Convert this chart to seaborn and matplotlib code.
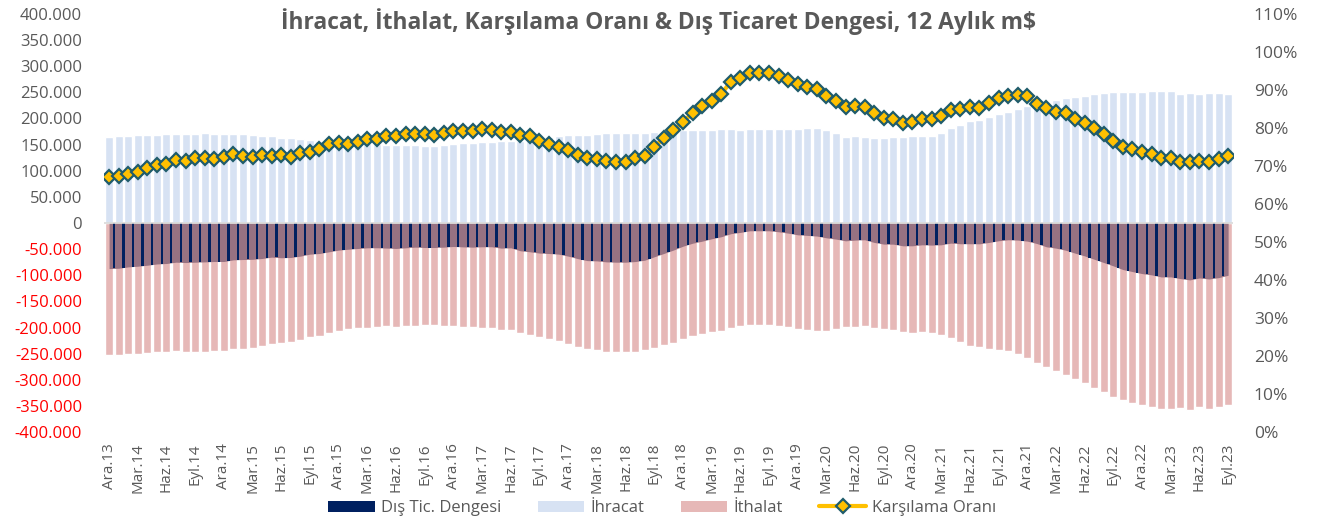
import numpy as np
import pandas as pd
import matplotlib
matplotlib.use("Agg")
import matplotlib.pyplot as plt
from matplotlib import font_manager as fm
from matplotlib.patches import Patch
from matplotlib.lines import Line2D
import seaborn as sns

# ---------------- data (values in thousand m$, i.e. 165.4 -> 165.400) ----------------
MONTHS = ["Oca", "Şub", "Mar", "Nis", "May", "Haz", "Tem", "Ağu", "Eyl", "Eki", "Kas", "Ara"]
periods = [f"{MONTHS[(11 + i) % 12]}.{13 + (11 + i) // 12}" for i in range(118)]  # Ara.13 ... Eyl.23

exports = [
    165.4, 166.0, 167.3, 168.6, 168.6, 169.0, 169.9, 169.9, 170.5, 171.2,
    171.8, 171.2, 171.2, 171.2, 170.5, 169.0, 166.7, 166.7, 163.5, 162.2,
    160.3, 159.0, 157.0, 155.8, 154.5, 153.0, 152.5, 152.5, 151.3, 150.0,
    150.0, 148.7, 150.0, 148.0, 148.0, 150.0, 151.3, 153.0, 152.5, 154.5,
    155.8, 156.4, 157.0, 157.7, 159.0, 161.0, 164.0, 166.0, 168.0, 169.0,
    169.0, 170.5, 171.8, 172.4, 172.4, 172.4, 171.8, 174.4, 175.7, 177.0,
    178.0, 178.0, 178.0, 178.8, 179.5, 180.8, 178.8, 180.0, 180.0, 180.0,
    180.0, 180.0, 180.0, 181.4, 181.4, 178.0, 171.8, 164.0, 166.0, 164.7,
    162.8, 162.8, 164.0, 164.0, 166.0, 166.0, 167.3, 172.4, 182.0, 188.5,
    194.9, 197.4, 203.8, 209.0, 212.8, 218.6, 223.0, 228.0, 229.4, 234.6,
    239.0, 241.0, 244.0, 246.0, 248.7, 250.6, 250.6, 250.6, 250.6, 252.6,
    251.9, 251.9, 247.4, 249.4, 247.4, 248.0, 248.0, 247.4,
]

imports = [
    -252.6, -252.6, -251.3, -251.3, -249.4, -247.4, -247.4, -244.9, -246.2, -246.2,
    -246.2, -244.9, -244.9, -241.7, -240.4, -238.5, -234.6, -232.0, -230.0, -228.2,
    -223.7, -218.6, -215.4, -210.9, -206.4, -203.2, -201.3, -200.0, -198.7, -198.0,
    -198.7, -196.2, -196.2, -194.9, -194.9, -196.2, -196.2, -198.7, -198.7, -200.0,
    -201.3, -204.5, -204.5, -210.9, -214.1, -218.6, -222.4, -225.6, -231.4, -237.2,
    -241.0, -243.0, -246.2, -247.4, -247.4, -246.2, -243.0, -239.1, -234.0, -228.8,
    -222.4, -216.7, -212.8, -209.0, -205.8, -201.3, -196.8, -194.9, -194.9, -194.9,
    -196.8, -199.4, -202.6, -205.1, -206.4, -206.4, -202.6, -198.1, -198.7, -196.8,
    -200.0, -203.2, -204.5, -207.7, -209.6, -207.7, -209.6, -214.1, -220.5, -228.2,
    -234.6, -237.2, -241.0, -243.0, -244.9, -251.3, -257.7, -267.3, -275.0, -282.7,
    -291.0, -298.7, -307.0, -315.4, -324.4, -332.7, -339.7, -343.6, -347.4, -351.9,
    -355.1, -355.1, -353.8, -358.3, -352.6, -355.1, -352.6, -347.4,
]

coverage = [  # Karşılama Oranı, %
    67.2, 67.4, 68.0, 68.5, 69.4, 70.2, 70.4, 71.6, 71.4, 72.2,
    72.2, 71.8, 72.5, 73.1, 72.6, 72.4, 72.9, 72.6, 72.9, 72.5,
    73.3, 73.8, 74.6, 75.7, 76.0, 75.8, 76.4, 77.0, 77.2, 77.9,
    77.9, 78.4, 78.3, 78.3, 78.2, 78.6, 79.3, 79.3, 79.3, 79.8,
    79.6, 78.9, 79.0, 78.2, 77.9, 76.6, 75.7, 75.1, 74.2, 72.9,
    72.2, 71.8, 71.3, 71.1, 71.1, 72.0, 72.7, 75.0, 77.3, 79.5,
    81.5, 84.0, 85.8, 87.2, 88.9, 92.2, 93.1, 94.4, 94.6, 94.6,
    93.7, 92.6, 91.6, 90.7, 90.2, 88.4, 87.2, 85.6, 85.8, 85.6,
    83.9, 82.7, 82.5, 81.2, 81.7, 82.3, 82.3, 83.2, 84.7, 85.0,
    85.6, 85.2, 86.5, 87.8, 88.4, 88.8, 88.4, 86.2, 85.2, 84.3,
    83.9, 82.4, 81.2, 79.9, 78.3, 76.6, 75.1, 74.4, 73.8, 73.1,
    72.0, 72.2, 71.1, 71.0, 71.4, 71.1, 71.8, 72.6,
]

# trade balance = exports + (negative) imports
balance = [e + m for e, m in zip(exports, imports)]

left_ticks = [-400, -350, -300, -250, -200, -150, -100, -50, 0, 50, 100, 150, 200, 250, 300, 350, 400]
right_ticks = [0, 10, 20, 30, 40, 50, 60, 70, 80, 90, 100, 110]

title = "İhracat, İthalat, Karşılama Oranı & Dış Ticaret Dengesi, 12 Aylık m$"
legend_labels = ["Dış Tic. Dengesi", "İhracat", "İthalat", "Karşılama Oranı"]

# ---------------- style ----------------
C_EXP = "#D7E2F3"
C_IMP = "#E6B8B7"
C_BAL_FILL = "#977282"
C_NAVY = "#002060"
C_LINE = "#FFC000"
C_MEDGE = "#1F5C6B"
C_TEXT = "#595959"

sns.set_theme(style="white")
names = {f.name for f in fm.fontManager.ttflist}
MAIN = "Open Sans" if "Open Sans" in names else "DejaVu Sans"
NARROW = "Liberation Sans Narrow" if "Liberation Sans Narrow" in names else MAIN
plt.rcParams["font.family"] = [MAIN, "DejaVu Sans"]

df = pd.DataFrame({"period": periods, "exports": exports, "imports": imports})
n = len(periods)
xs = np.arange(n)

fig = plt.figure(figsize=(13.27, 5.18), dpi=100)
ax = fig.add_axes([104.3 / 1327, 86 / 518, 1128.6 / 1327, 418 / 518])

sns.barplot(data=df, x="period", y="exports", color=C_EXP, saturation=1, width=0.84,
            errorbar=None, ax=ax, zorder=2)
sns.barplot(data=df, x="period", y="imports", color=C_IMP, saturation=1, width=0.84,
            errorbar=None, ax=ax, zorder=2)

# trade balance: filled region + thin navy columns at category boundaries
ax.fill_between(xs, 0, balance, color=C_BAL_FILL, linewidth=0, zorder=3)
bal = np.array(balance)
mid = (bal[:-1] + bal[1:]) / 2
ax.bar(xs[:-1] + 0.5, mid, width=0.24, color=C_NAVY, linewidth=0, zorder=4)

ax.axhline(0, color="#D9D9D9", lw=1.2, zorder=5)

ax.set_xlim(-0.5, n - 0.5)
ax.set_ylim(-400, 400)
ax.set_xlabel("")
ax.set_ylabel("")
ax.set_xticks(xs[::3])
ax.set_xticklabels([periods[i] for i in xs[::3]], rotation=90, fontsize=11,
                   family=[NARROW, "DejaVu Sans"], color=C_TEXT)
ax.set_yticks(left_ticks)
ax.set_yticklabels([("0" if v == 0 else f"{v * 1000:,.0f}".replace(",", ".")) for v in left_ticks],
                   fontsize=12)
for lab, v in zip(ax.get_yticklabels(), left_ticks):
    lab.set_color("#FF0000" if v < 0 else C_TEXT)
ax.tick_params(axis="y", length=0, pad=16)
ax.tick_params(axis="x", length=0, pad=8)
for s in ax.spines.values():
    s.set_visible(False)

ax2 = ax.twinx()
sns.lineplot(x=xs, y=coverage, ax=ax2, color=C_LINE, lw=3, marker="D", markersize=7.5,
             markerfacecolor=C_LINE, markeredgecolor=C_MEDGE, markeredgewidth=1.6, zorder=6)
ax2.set_ylim(0, 110)
ax2.set_yticks(right_ticks)
ax2.set_yticklabels([f"{v}%" for v in right_ticks], fontsize=12.5, color=C_TEXT)
ax2.tick_params(axis="y", length=0, pad=15)
ax2.set_ylabel("")
for s in ax2.spines.values():
    s.set_visible(False)

fig.text(0.496, 0.958, title, ha="center", va="center", fontsize=16.4, fontweight="bold",
         color=C_TEXT)

handles = [
    Patch(facecolor=C_NAVY, edgecolor="none"),
    Patch(facecolor=C_EXP, edgecolor="none"),
    Patch(facecolor=C_IMP, edgecolor="none"),
    Line2D([0], [0], color=C_LINE, lw=3, marker="D", markersize=7.5,
           markerfacecolor=C_LINE, markeredgecolor=C_MEDGE, markeredgewidth=1.6),
]
leg = fig.legend(handles, legend_labels, loc="center", bbox_to_anchor=(0.499, 0.019), ncol=4,
                 frameon=False, fontsize=12, handlelength=2.8, handleheight=0.65,
                 handletextpad=0.35, columnspacing=2.2, labelcolor=C_TEXT)

fig.savefig("out.png", dpi=100)
